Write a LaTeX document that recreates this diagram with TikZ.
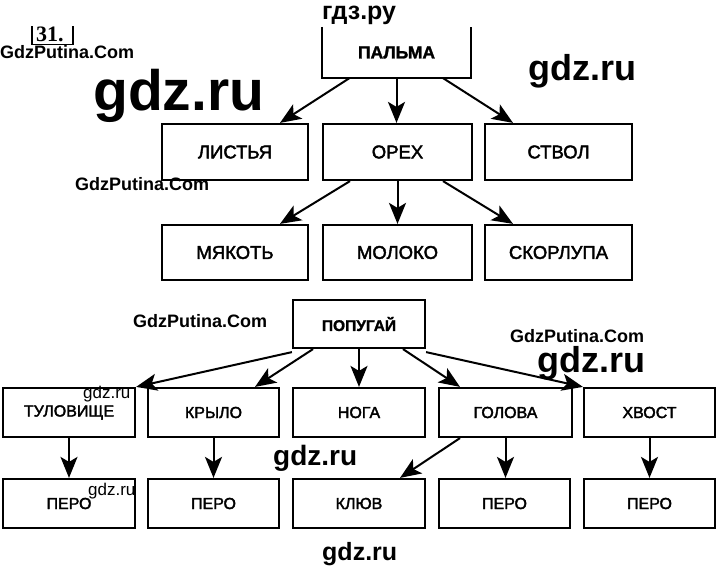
\documentclass[tikz,border=0pt]{standalone}
\usepackage{fontspec}
\setmainfont{Liberation Sans}
\newfontfamily\serifnum{Liberation Serif}
\newfontfamily\boxfont[FakeBold=2.2]{Liberation Sans}
\newfontfamily\boldbox[FakeBold=1.5]{Liberation Sans Bold}
\usetikzlibrary{arrows.meta}
\tikzset{
  box/.style={draw, line width=2.2pt, minimum height=49pt, inner sep=0pt},
  arr/.style={line width=2pt, -{Stealth[length=21pt, width=17pt, inset=5pt]}},
  wm/.style={anchor=base west, inner sep=0pt, font=\bfseries\fontsize{#1}{#1}\selectfont},
  wmthin/.style={anchor=base west, inner sep=0pt, font=\fontsize{#1}{#1}\selectfont},
}
\newcommand{\bx}[1]{{\boxfont\fontsize{18.5}{20}\selectfont #1}}
\newcommand{\bxs}[1]{{\boxfont\fontsize{16}{18}\selectfont #1}}
\newcommand{\bxb}[2]{{\boldbox\fontsize{#1}{#1}\selectfont #2}}
\begin{document}
\begin{tikzpicture}[x=1pt,y=-1pt]
\useasboundingbox (0,0) rectangle (720,571);
% --- palma tree ---
\node[box, draw=none, minimum width=147pt] (palma) at (396.5,52.5) {\bxb{17.5}{ПАЛЬМА}};
\draw[line width=2.2pt] (palma.north west) -- (palma.south west) -- (palma.south east) -- (palma.north east);
\node[box, minimum width=146pt, minimum height=56pt] (listya) at (235,152) {\bx{ЛИСТЬЯ}};
\node[box, minimum width=149pt, minimum height=56pt] (oreh) at (397.5,152) {\bx{ОРЕХ}};
\node[box, minimum width=147pt, minimum height=56pt] (stvol) at (558.5,152) {\bx{СТВОЛ}};
\node[box, minimum width=146pt, minimum height=55pt] (myakot) at (235,252.5) {\bx{МЯКОТЬ}};
\node[box, minimum width=149pt, minimum height=55pt] (moloko) at (397.5,252.5) {\bx{МОЛОКО}};
\node[box, minimum width=147pt, minimum height=55pt] (skorlupa) at (558.5,252.5) {\bx{СКОРЛУПА}};
\draw[arr] ([xshift=-47pt]palma.south) -- ([xshift=45pt]listya.north);
\draw[arr] (palma.south) -- (palma.south |- oreh.north);
\draw[arr] ([xshift=46.5pt]palma.south) -- ([xshift=-45.5pt]stvol.north);
\draw[arr] ([xshift=-47.5pt]oreh.south) -- ([xshift=45pt]myakot.north);
\draw[arr] (oreh.south) -- (oreh.south |- moloko.north);
\draw[arr] ([xshift=45.5pt]oreh.south) -- ([xshift=-45.5pt]skorlupa.north);
% --- parrot tree ---
\node[box, minimum width=132pt, minimum height=48pt] (popugai) at (359,324) {\bxb{15.5}{ПОПУГАЙ}};
\node[box, minimum width=132pt] (tulov) at (69,412.5) {\bxs{ТУЛОВИЩЕ}};
\node[box, minimum width=131pt] (krylo) at (213.5,412.5) {\bxs{КРЫЛО}};
\node[box, minimum width=132pt] (noga) at (359,412.5) {\bxs{НОГА}};
\node[box, minimum width=133pt] (golova) at (505.5,412.5) {\bxs{ГОЛОВА}};
\node[box, minimum width=131pt] (hvost) at (649.5,412.5) {\bxs{ХВОСТ}};
\node[box, minimum width=132pt] (pero1) at (69,503.5) {\bxs{ПЕРО}};
\node[box, minimum width=131pt] (pero2) at (213.5,503.5) {\bxs{ПЕРО}};
\node[box, minimum width=132pt] (klyuv) at (359,503.5) {\bxs{КЛЮВ}};
\node[box, minimum width=131pt] (pero3) at (504.5,503.5) {\bxs{ПЕРО}};
\node[box, minimum width=131pt] (pero4) at (649.5,503.5) {\bxs{ПЕРО}};
\draw[arr] ([yshift=-3pt]popugai.south west) -- (tulov.north east);
\draw[arr] ([xshift=-46pt]popugai.south) -- ([xshift=41.5pt]krylo.north);
\draw[arr] (popugai.south) -- (popugai.south |- noga.north);
\draw[arr] ([xshift=44pt]popugai.south) -- ([xshift=-45.5pt]golova.north);
\draw[arr] ([yshift=-3pt]popugai.south east) -- (hvost.north west);
\draw[arr] (tulov.south) -- (tulov.south |- pero1.north);
\draw[arr] (krylo.south) -- (krylo.south |- pero2.north);
\draw[arr] ([xshift=-45.5pt]golova.south) -- ([xshift=41pt]klyuv.north);
\draw[arr] (golova.south) -- (golova.south |- pero3.north);
\draw[arr] (hvost.south) -- (hvost.south |- pero4.north);
% --- marks ---
\node[wm=25] (w1) at (322,19) {гдз.ру};
\node[anchor=base west, inner sep=0pt, font=\serifnum\bfseries\fontsize{22}{22}\selectfont] (num) at (36,41) {31.};
\draw[line width=1.2pt] (32,26) -- (32,44.5) -- (73,44.5) -- (73,26);
\node[wm=18] (w2) at (0,58) {GdzPutina.Com};
\node[wm=57] (w3) at (93,110) {gdz.ru};
\node[wm=36] (w4) at (528,80) {gdz.ru};
\node[wm=18] (w5) at (75,190) {GdzPutina.Com};
\node[wm=18] (w6) at (133,327) {GdzPutina.Com};
\node[wm=18] (w7) at (510,342) {GdzPutina.Com};
\node[wm=36] (w8) at (537,372) {gdz.ru};
\node[wmthin=17] (w9) at (83,398) {gdz.ru};
\node[wm=28] (w10) at (273,465) {gdz.ru};
\node[wmthin=17] (w11) at (88,495) {gdz.ru};
\node[wm=25] (w12) at (322,560) {gdz.ru};
\end{tikzpicture}
\end{document}
